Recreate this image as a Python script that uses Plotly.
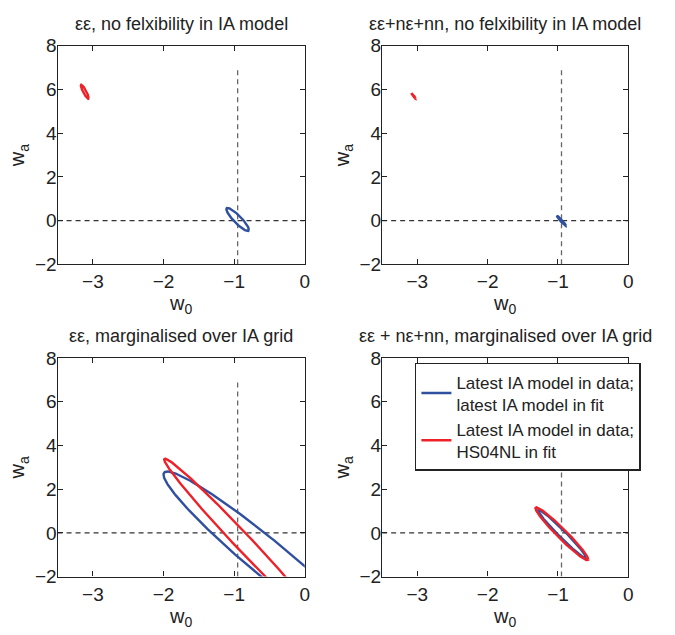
import numpy as np
import plotly.graph_objects as go

# ---------------- data ----------------
titles = [
    "εε, no felxibility in IA model",
    "εε+nε+nn, no felxibility in IA model",
    "εε, marginalised over IA grid",
    "εε + nε+nn, marginalised over IA grid",
]
series_names = [
    "Latest IA model in data;<br>latest IA model in fit",
    "Latest IA model in data;<br>HS04NL in fit",
]
# contour ellipse parameters per panel: centre, half-extents, correlation
blue_cx = [-0.95, -0.95, -0.46, -0.94]
blue_cy = [0.05, -0.015, -1.35, -0.05]
blue_sx = [0.16, 0.065, 1.54, 0.34]
blue_sy = [0.53, 0.235, 4.16, 1.10]
blue_rho = [-0.89, -0.97, -0.966, -0.979]

red_cx = [-3.115, -3.053, -0.88, -0.945]
red_cy = [5.895, 5.70, -0.40, -0.04]
red_sx = [0.055, 0.03, 1.11, 0.375]
red_sy = [0.32, 0.13, 3.80, 1.21]
red_rho = [-0.89, -0.97, -0.990, -0.968]

fid_w0 = -0.95          # fiducial w0 (vertical dashed line)
fid_wa = 0.0            # fiducial wa (horizontal dashed line)
vline_wa = [-2, 7]      # extent of vertical dashed line
hline_w0 = [-3.5, 0]    # extent of horizontal dashed line

x_range = [-3.5, 0]
y_range = [-2, 8]
x_ticks = [-3, -2, -1, 0]
y_ticks = [-2, 0, 2, 4, 6, 8]

# ---------------- styling ----------------
BLUE = "#2f4f9f"
RED = "#ee2028"
FONT = "Liberation Sans, Arial, Helvetica, sans-serif"
W, H = 675, 635

# panel pixel boxes (left, right, top, bottom)
boxes = [
    (58, 307, 37, 263),
    (385, 633, 37, 263),
    (58, 307, 360, 586),
    (385, 633, 360, 586),
]


def ellipse(cx, cy, sx, sy, rho, n=400):
    t = np.linspace(0, 2 * np.pi, n)
    x = cx + sx * np.cos(t)
    y = cy + sy * (rho * np.cos(t) + np.sqrt(1 - rho ** 2) * np.sin(t))
    return x, y


fig = go.Figure()
layout = dict(
    width=W, height=H,
    margin=dict(l=0, r=0, t=0, b=0),
    paper_bgcolor="white", plot_bgcolor="white",
    font=dict(family=FONT, size=18, color="#222"),
    showlegend=True,
    annotations=[],
)

for i in range(4):
    l, r, t, b = boxes[i]
    xa = "x" if i == 0 else f"x{i+1}"
    ya = "y" if i == 0 else f"y{i+1}"
    xkey = "xaxis" if i == 0 else f"xaxis{i+1}"
    ykey = "yaxis" if i == 0 else f"yaxis{i+1}"
    common = dict(
        showgrid=False, zeroline=False, showline=True, linecolor="#222",
        linewidth=1.3, mirror="allticks", ticks="inside", ticklen=5,
        tickcolor="#222", tickfont=dict(size=19, family=FONT, color="#222"),
    )
    layout[xkey] = dict(
        common, domain=[l / W, r / W], range=x_range, tickvals=x_ticks,
        anchor=ya,
        title=dict(text="w<sub>0</sub>", font=dict(size=20, family=FONT, color="#222"),
                   standoff=0),
    )
    layout[ykey] = dict(
        common, domain=[1 - b / H, 1 - t / H], range=y_range, tickvals=y_ticks,
        anchor=xa, ticklabelstandoff=-4,
        title=dict(text="w<sub>a</sub>", font=dict(size=20, family=FONT, color="#222"),
                   standoff=4),
    )

    # reference dashed lines
    fig.add_trace(go.Scatter(x=hline_w0, y=[fid_wa, fid_wa], mode="lines",
                             line=dict(color="#333", width=1.1, dash="5px,4px"),
                             xaxis=xa, yaxis=ya, showlegend=False, hoverinfo="skip"))
    fig.add_trace(go.Scatter(x=[fid_w0, fid_w0], y=vline_wa, mode="lines",
                             line=dict(color="#666", width=1.3, dash="5px,4px"),
                             xaxis=xa, yaxis=ya, showlegend=False, hoverinfo="skip"))

    bx, by = ellipse(blue_cx[i], blue_cy[i], blue_sx[i], blue_sy[i], blue_rho[i])
    rx, ry = ellipse(red_cx[i], red_cy[i], red_sx[i], red_sy[i], red_rho[i])
    fig.add_trace(go.Scatter(x=bx, y=by, mode="lines", name=series_names[0],
                             line=dict(color=BLUE, width=2.4),
                             xaxis=xa, yaxis=ya, showlegend=(i == 3)))
    fig.add_trace(go.Scatter(x=rx, y=ry, mode="lines", name=series_names[1],
                             line=dict(color=RED, width=2.4),
                             xaxis=xa, yaxis=ya, showlegend=(i == 3)))

    title_y = 14 if i < 2 else 337
    layout["annotations"].append(dict(
        text=titles[i], x=(l + r) / 2 / W, y=1 - title_y / H,
        xref="paper", yref="paper", xanchor="center", yanchor="middle",
        showarrow=False, font=dict(size=18, family=FONT, color="#222"),
    ))

layout["legend"] = dict(
    x=418 / W, y=1 - 365 / H, xanchor="left", yanchor="top",
    bgcolor="white", bordercolor="#222", borderwidth=1.5,
    font=dict(size=17, family=FONT, color="#222"),
    itemwidth=30, tracegroupgap=0,
)
fig.update_layout(**layout)
fig.write_html("out.html")
